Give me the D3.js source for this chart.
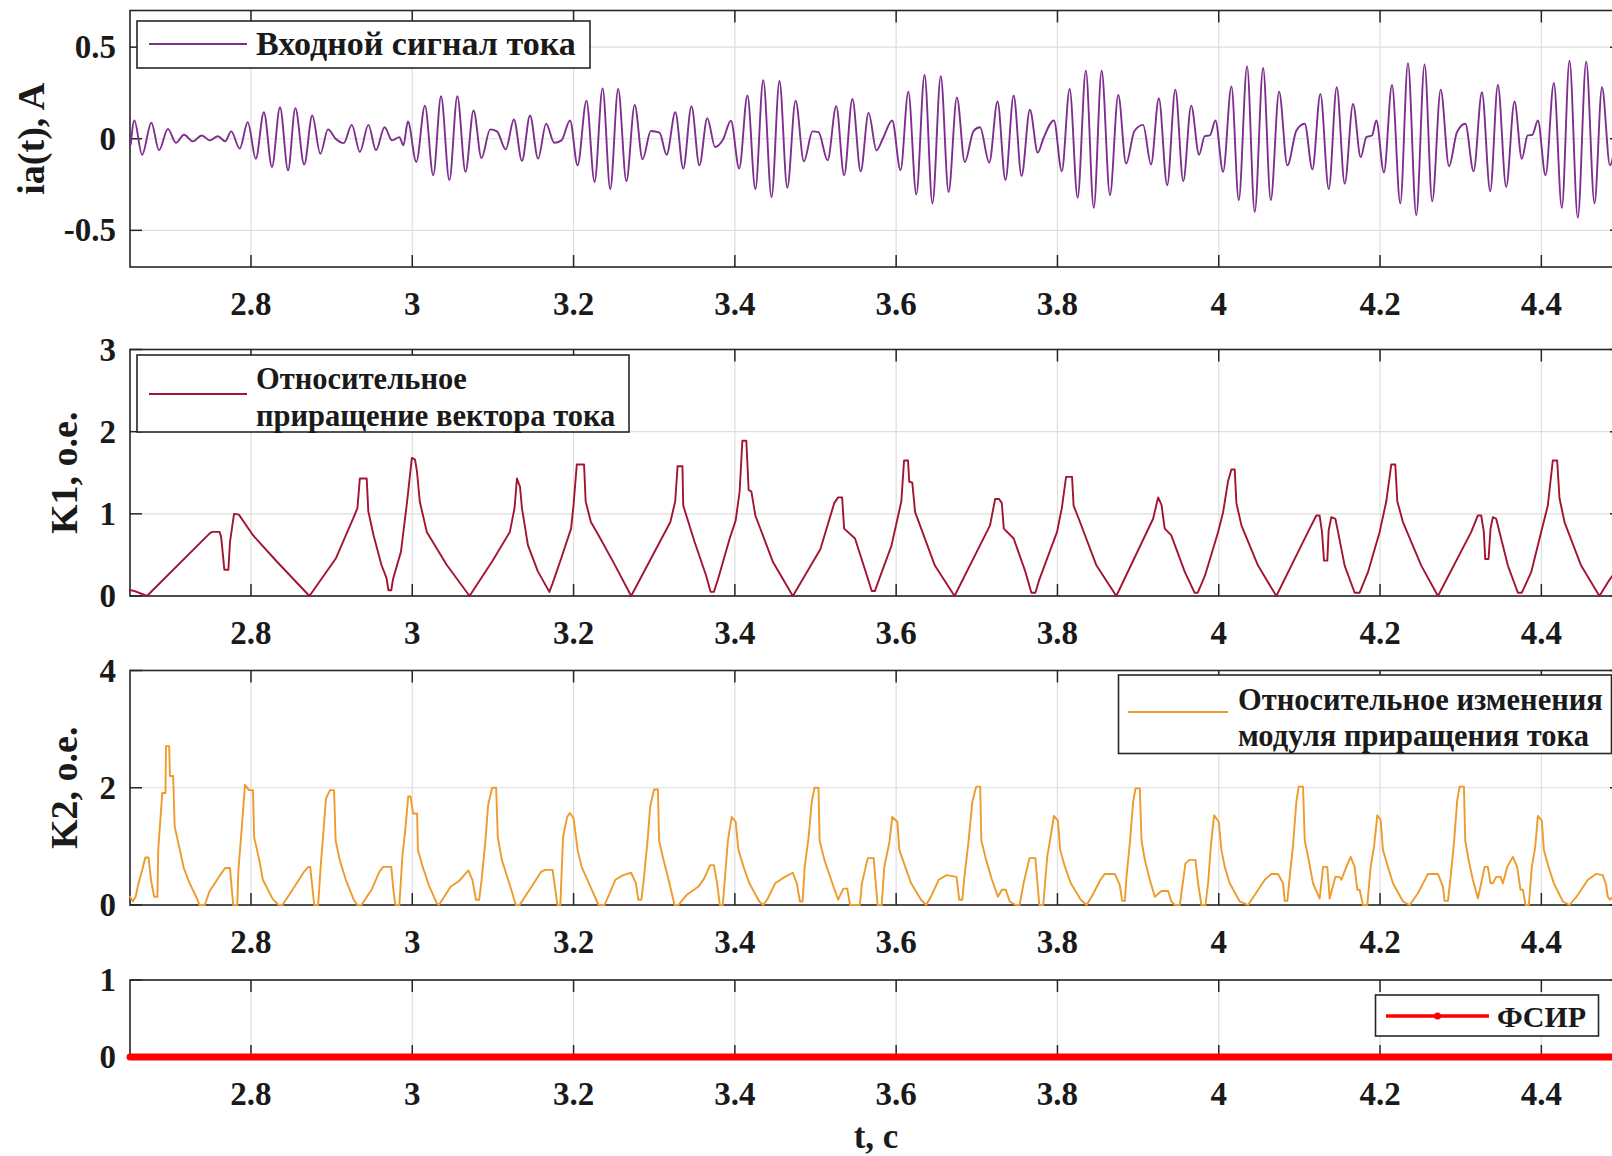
<!DOCTYPE html>
<html>
<head>
<meta charset="utf-8">
<script src="https://cdn.jsdelivr.net/npm/d3@7"></script>
<style>
  body { margin: 0; background: #fff; }
  text { font-family: "Liberation Serif", "Times New Roman", serif; font-weight: bold; fill: #1a1a1a; }
</style>
</head>
<body>
<svg id="chart" width="1612" height="1156"></svg>
<script>
// ---- data ----
const xDomain = [2.65, 4.5];
const xTicks = [2.8, 3, 3.2, 3.4, 3.6, 3.8, 4, 4.2, 4.4];
const xTickLabels = ["2.8", "3", "3.2", "3.4", "3.6", "3.8", "4", "4.2", "4.4"];

const iaTicks = [-0.5, 0, 0.5];
const iaTickLabels = ["-0.5", "0", "0.5"];
const k1Ticks = [0, 1, 2, 3];
const k1TickLabels = ["0", "1", "2", "3"];
const k2Ticks = [0, 2, 4];
const k2TickLabels = ["0", "2", "4"];
const fsirTicks = [0, 1];
const fsirTickLabels = ["0", "1"];

// extrema of the input current signal [t, A]
const iaPts = [
  [2.651,-0.03],[2.6554,0.10],[2.665,-0.087],[2.6765,0.087],[2.686,-0.063],[2.697,0.054],[2.707,-0.022],
  [2.717,0.022],[2.728,-0.014],[2.739,0.018],[2.749,-0.009],[2.759,0.014],[2.768,-0.014],[2.7755,0.04],
  [2.786,-0.054],[2.796,0.09],[2.806,-0.109],[2.816,0.145],[2.826,-0.154],[2.836,0.172],[2.846,-0.172],
  [2.855,0.167],[2.866,-0.141],[2.876,0.127],[2.886,-0.082],[2.8955,0.051],[2.905,0.0],[2.915,-0.024],
  [2.925,0.076],[2.935,-0.072],[2.9456,0.076],[2.955,-0.063],[2.9656,0.063],[2.975,-0.009],[2.984,0.009],
  [2.989,-0.036],[2.9946,0.094],[3.005,-0.127],[3.0157,0.181],[3.026,-0.2],[3.0357,0.232],[3.046,-0.226],
  [3.0559,0.232],[3.066,-0.181],[3.076,0.154],[3.0858,-0.105],[3.0966,0.051],[3.105,0.04],[3.116,-0.058],
  [3.126,0.105],[3.136,-0.121],[3.146,0.127],[3.156,-0.109],[3.166,0.082],[3.176,-0.022],[3.185,-0.009],
  [3.1956,0.1],[3.205,-0.145],[3.216,0.208],[3.226,-0.236],[3.236,0.275],[3.2455,-0.275],[3.2553,0.272],
  [3.2655,-0.232],[3.2758,0.185],[3.2856,-0.112],[3.2958,0.042],[3.3066,0.033],[3.3154,-0.087],[3.3262,0.145],
  [3.336,-0.163],[3.3462,0.178],[3.356,-0.145],[3.3658,0.112],[3.3755,-0.045],[3.3853,-0.004],[3.3951,0.098],
  [3.4054,-0.163],[3.4156,0.236],[3.4254,-0.275],[3.4352,0.319],[3.4455,-0.319],[3.4553,0.315],[3.465,-0.268],
  [3.4753,0.208],[3.4856,-0.123],[3.4963,0.04],[3.5037,0.036],[3.515,-0.118],[3.5257,0.178],[3.5355,-0.2],
  [3.5457,0.217],[3.556,-0.178],[3.5658,0.141],[3.5756,-0.063],[3.5834,0.0],[3.5951,0.1],[3.6054,-0.172],
  [3.6151,0.257],[3.625,-0.304],[3.6352,0.348],[3.645,-0.353],[3.6553,0.341],[3.665,-0.29],[3.6753,0.226],
  [3.6851,-0.127],[3.6959,0.042],[3.704,0.063],[3.7154,-0.13],[3.7257,0.203],[3.7355,-0.226],[3.7457,0.236],
  [3.7555,-0.203],[3.7658,0.158],[3.7756,-0.076],[3.7824,0.0],[3.7956,0.1],[3.8054,-0.178],[3.8151,0.272],
  [3.825,-0.322],[3.8352,0.371],[3.845,-0.377],[3.8548,0.371],[3.8651,-0.308],[3.8754,0.239],[3.8851,-0.136],
  [3.8954,0.042],[3.9062,0.076],[3.916,-0.141],[3.9257,0.221],[3.936,-0.254],[3.9462,0.268],[3.956,-0.232],
  [3.9658,0.181],[3.9756,-0.087],[3.9826,0.014],[3.989,0.018],[3.9959,0.1],[4.0054,-0.181],[4.0157,0.286],
  [4.0248,-0.335],[4.0351,0.395],[4.0446,-0.399],[4.055,0.386],[4.0645,-0.335],[4.0748,0.257],[4.0851,-0.145],
  [4.0963,0.045],[4.1066,0.082],[4.1161,-0.167],[4.126,0.245],[4.1364,-0.275],[4.1463,0.281],[4.1562,-0.245],
  [4.1665,0.19],[4.176,-0.1],[4.183,0.009],[4.19,0.018],[4.1954,0.1],[4.2048,-0.185],[4.2148,0.293],
  [4.2251,-0.353],[4.2346,0.413],[4.2449,-0.417],[4.2552,0.406],[4.2647,-0.341],[4.2752,0.268],[4.2855,-0.15],
  [4.2954,0.036],[4.3057,0.082],[4.316,-0.178],[4.3263,0.254],[4.3366,-0.286],[4.3461,0.293],[4.3564,-0.263],
  [4.3667,0.203],[4.3758,-0.109],[4.383,0.018],[4.389,0.022],[4.3957,0.1],[4.4052,-0.2],[4.4155,0.304],
  [4.4254,-0.377],[4.4349,0.426],[4.4452,-0.431],[4.4556,0.42],[4.4659,-0.353],[4.4752,0.281],[4.4851,-0.145],
  [4.495,0.12]
];

// K1, relative increment of the current vector [t, p.u.]
const k1Pts = [
  [2.65,0.073],[2.656,0.06],[2.671,0.0],[2.7485,0.76],[2.752,0.78],[2.761,0.78],[2.763,0.72],[2.767,0.32],
  [2.772,0.32],[2.774,0.66],[2.779,1.0],[2.785,0.99],[2.8025,0.74],[2.832,0.42],[2.8725,0.0],[2.9054,0.46],
  [2.927,0.95],[2.932,1.07],[2.935,1.43],[2.9435,1.43],[2.9455,1.03],[2.952,0.74],[2.9617,0.38],[2.968,0.22],
  [2.9705,0.07],[2.974,0.07],[2.976,0.2],[2.986,0.54],[2.9936,1.15],[2.9995,1.68],[3.0034,1.66],[3.0058,1.52],
  [3.0093,1.15],[3.018,0.78],[3.0426,0.38],[3.071,0.0],[3.099,0.42],[3.121,0.78],[3.1268,1.07],[3.1298,1.43],
  [3.1336,1.33],[3.136,1.07],[3.1434,0.62],[3.1557,0.3],[3.17,0.05],[3.1739,0.15],[3.1847,0.46],[3.1969,0.82],
  [3.2,1.11],[3.204,1.6],[3.213,1.6],[3.215,1.15],[3.2215,0.9],[3.232,0.72],[3.25,0.4],[3.2714,0.0],
  [3.32,0.9],[3.326,1.15],[3.329,1.58],[3.335,1.58],[3.336,1.1],[3.35,0.66],[3.3643,0.25],[3.37,0.05],
  [3.374,0.05],[3.379,0.2],[3.3936,0.7],[3.401,0.92],[3.4059,1.27],[3.4093,1.89],[3.4142,1.89],[3.4171,1.29],
  [3.4205,1.27],[3.4254,0.98],[3.4474,0.41],[3.4719,0.0],[3.506,0.57],[3.5232,1.13],[3.528,1.2],[3.533,1.2],
  [3.5355,0.82],[3.549,0.7],[3.5624,0.29],[3.5697,0.06],[3.5736,0.06],[3.5795,0.22],[3.5941,0.61],[3.6064,1.15],
  [3.6098,1.65],[3.6147,1.65],[3.6162,1.39],[3.62,1.38],[3.6235,1.02],[3.648,0.37],[3.6724,0.0],[3.7164,0.86],
  [3.7227,1.18],[3.7276,1.18],[3.731,1.13],[3.7335,0.82],[3.7457,0.7],[3.7604,0.29],[3.7677,0.04],[3.7726,0.04],
  [3.7775,0.2],[3.7995,0.78],[3.8054,1.07],[3.8107,1.45],[3.8181,1.45],[3.82,1.1],[3.8264,0.94],[3.8484,0.37],
  [3.873,0.0],[3.9186,0.94],[3.9248,1.2],[3.929,1.11],[3.933,0.82],[3.941,0.74],[3.958,0.29],[3.97,0.04],
  [3.974,0.04],[3.983,0.25],[3.9992,0.78],[4.0054,1.02],[4.0116,1.4],[4.0157,1.54],[4.0198,1.54],[4.0219,1.13],
  [4.0281,0.86],[4.0487,0.37],[4.0714,0.0],[4.1107,0.78],[4.121,0.98],[4.125,0.98],[4.128,0.78],[4.1305,0.43],
  [4.1346,0.43],[4.1363,0.8],[4.1396,0.96],[4.1446,0.94],[4.1479,0.78],[4.1561,0.37],[4.1685,0.04],[4.1747,0.04],
  [4.185,0.29],[4.1995,0.78],[4.2077,1.15],[4.2139,1.6],[4.2189,1.6],[4.2214,1.15],[4.2284,0.9],[4.2511,0.37],
  [4.2718,0.0],[4.3131,0.78],[4.3213,0.98],[4.3254,0.98],[4.3287,0.78],[4.3304,0.45],[4.3345,0.45],[4.337,0.82],
  [4.3399,0.96],[4.344,0.94],[4.3481,0.78],[4.3585,0.37],[4.3709,0.04],[4.3758,0.04],[4.3874,0.29],[4.3998,0.78],
  [4.408,1.1],[4.4142,1.65],[4.4196,1.65],[4.4225,1.19],[4.4287,0.9],[4.4493,0.37],[4.472,0.0],[4.4847,0.2],
  [4.5,0.4]
];

// K2, relative change of the increment modulus [t, p.u.]
const k2Pts = [
  [2.65,0.14],[2.6535,0.06],[2.657,0.14],[2.66,0.34],[2.6652,0.6],[2.669,0.81],[2.673,0.81],[2.676,0.43],
  [2.68,0.14],[2.684,0.14],[2.685,0.94],[2.69,1.91],[2.694,1.91],[2.6946,2.71],[2.6986,2.71],[2.6995,2.2],
  [2.7035,2.2],[2.7054,1.34],[2.7118,0.94],[2.7167,0.63],[2.724,0.37],[2.7338,0.09],[2.736,0.0],[2.7427,0.0],
  [2.7485,0.23],[2.7632,0.54],[2.768,0.63],[2.774,0.63],[2.776,0.3],[2.778,0.0],[2.783,0.0],[2.7843,0.57],
  [2.7887,1.34],[2.7926,2.05],[2.7975,1.96],[2.8025,1.96],[2.8039,1.16],[2.8098,0.8],[2.8147,0.43],[2.827,0.1],
  [2.8343,0.0],[2.839,0.0],[2.8515,0.26],[2.866,0.57],[2.871,0.65],[2.8735,0.65],[2.8784,0.0],[2.8833,0.0],
  [2.8867,0.71],[2.8897,1.22],[2.893,1.82],[2.898,1.96],[2.903,1.96],[2.905,1.1],[2.91,0.77],[2.9176,0.43],
  [2.9274,0.09],[2.932,0.0],[2.937,0.0],[2.9495,0.26],[2.9593,0.57],[2.964,0.65],[2.974,0.65],[2.9764,0.28],
  [2.979,0.0],[2.984,0.0],[2.9877,0.82],[2.991,1.23],[2.995,1.85],[2.998,1.85],[3.001,1.56],[3.006,1.56],
  [3.007,0.94],[3.013,0.65],[3.0205,0.34],[3.0303,0.03],[3.033,0.0],[3.0475,0.31],[3.0573,0.4],[3.0696,0.59],
  [3.0745,0.43],[3.079,0.09],[3.083,0.09],[3.086,0.43],[3.0906,1.08],[3.094,1.7],[3.099,2.0],[3.104,2.0],
  [3.106,1.16],[3.111,0.77],[3.121,0.34],[3.1284,0.0],[3.133,0.0],[3.1455,0.26],[3.16,0.57],[3.165,0.6],
  [3.174,0.6],[3.18,0.0],[3.1836,0.0],[3.187,1.16],[3.192,1.5],[3.1955,1.57],[3.2,1.48],[3.205,0.94],
  [3.21,0.65],[3.221,0.31],[3.231,0.0],[3.2385,0.0],[3.2518,0.43],[3.2616,0.51],[3.2714,0.55],[3.2773,0.37],
  [3.2802,0.09],[3.2841,0.09],[3.287,0.43],[3.292,1.14],[3.295,1.68],[3.2998,1.97],[3.3046,1.97],[3.306,1.1],
  [3.3115,0.77],[3.3178,0.43],[3.3252,0.0],[3.33,0.0],[3.34,0.17],[3.3545,0.31],[3.3619,0.45],[3.3692,0.68],
  [3.374,0.68],[3.378,0.37],[3.3814,0.0],[3.385,0.0],[3.3878,0.48],[3.3912,1.08],[3.396,1.5],[3.401,1.42],
  [3.4044,0.94],[3.4108,0.65],[3.418,0.37],[3.4303,0.06],[3.4352,0.0],[3.44,0.09],[3.45,0.37],[3.4621,0.48],
  [3.4719,0.55],[3.4768,0.37],[3.4807,0.06],[3.484,0.06],[3.4866,0.65],[3.4915,1.16],[3.4953,1.76],[3.4988,2.0],
  [3.5037,2.0],[3.5051,1.1],[3.511,0.77],[3.5208,0.37],[3.5281,0.09],[3.5345,0.28],[3.5394,0.28],[3.5428,0.0],
  [3.555,0.0],[3.5575,0.37],[3.5648,0.8],[3.5721,0.8],[3.577,0.0],[3.582,0.0],[3.5853,0.65],[3.5917,1.08],
  [3.5951,1.5],[3.6015,1.42],[3.6039,0.94],[3.6113,0.65],[3.6186,0.37],[3.6308,0.09],[3.6372,0.0],[3.643,0.14],
  [3.6528,0.43],[3.6626,0.51],[3.6748,0.48],[3.6782,0.09],[3.682,0.09],[3.6846,0.48],[3.6895,1.05],[3.6944,1.76],
  [3.6993,2.02],[3.7042,2.02],[3.7056,1.1],[3.7115,0.77],[3.7188,0.43],[3.7262,0.14],[3.731,0.26],[3.736,0.26],
  [3.7408,0.06],[3.7482,0.0],[3.753,0.0],[3.758,0.37],[3.7653,0.8],[3.7726,0.8],[3.7775,0.0],[3.7824,0.0],
  [3.7873,0.82],[3.7922,1.22],[3.7956,1.52],[3.8005,1.44],[3.8034,0.94],[3.8093,0.65],[3.8166,0.37],[3.8289,0.09],
  [3.8362,0.0],[3.8435,0.17],[3.8533,0.43],[3.8587,0.53],[3.8711,0.53],[3.8773,0.34],[3.8802,0.07],[3.8835,0.07],
  [3.8856,0.48],[3.8897,1.05],[3.8939,1.76],[3.8968,1.99],[3.9021,1.99],[3.9042,1.1],[3.9083,0.77],[3.9145,0.43],
  [3.9207,0.14],[3.929,0.24],[3.9372,0.24],[3.9413,0.06],[3.9455,0.0],[3.9517,0.0],[3.9587,0.71],[3.9641,0.77],
  [3.9711,0.77],[3.9744,0.37],[3.9785,0.0],[3.9835,0.0],[3.9868,0.37],[3.9901,0.99],[3.9942,1.53],[4.0,1.42],
  [4.0033,0.94],[4.0074,0.65],[4.0136,0.37],[4.026,0.06],[4.0363,0.0],[4.0446,0.17],[4.057,0.43],[4.0653,0.53],
  [4.0735,0.53],[4.0797,0.37],[4.0818,0.07],[4.0851,0.07],[4.088,0.48],[4.0921,1.02],[4.0962,1.76],[4.0991,2.02],
  [4.1045,2.02],[4.1066,1.1],[4.1115,0.77],[4.1169,0.37],[4.1251,0.11],[4.1293,0.65],[4.1346,0.65],[4.1375,0.11],
  [4.1446,0.48],[4.1499,0.48],[4.152,0.43],[4.1582,0.65],[4.1636,0.82],[4.1685,0.65],[4.1718,0.26],[4.1747,0.26],
  [4.1788,0.0],[4.1842,0.0],[4.1883,0.65],[4.1925,0.99],[4.1966,1.53],[4.2007,1.45],[4.2036,0.94],[4.2098,0.65],
  [4.216,0.37],[4.2284,0.06],[4.2367,0.0],[4.247,0.2],[4.2594,0.53],[4.2718,0.53],[4.278,0.31],[4.28,0.07],
  [4.2842,0.07],[4.2875,0.48],[4.2916,1.05],[4.2957,1.79],[4.2986,2.02],[4.304,2.02],[4.3056,1.1],[4.3098,0.77],
  [4.3151,0.43],[4.3213,0.11],[4.3254,0.37],[4.3296,0.65],[4.3337,0.65],[4.337,0.37],[4.3399,0.37],[4.344,0.48],
  [4.3494,0.48],[4.3523,0.37],[4.3577,0.65],[4.3647,0.82],[4.37,0.65],[4.3742,0.26],[4.3771,0.26],[4.3804,0.0],
  [4.3845,0.0],[4.3882,0.65],[4.3924,0.99],[4.3957,1.52],[4.4006,1.44],[4.4031,0.94],[4.4089,0.65],[4.4155,0.37],
  [4.4267,0.06],[4.4349,0.0],[4.4452,0.17],[4.4576,0.43],[4.4679,0.53],[4.4762,0.51],[4.4803,0.34],[4.4824,0.14],
  [4.485,0.09],[4.5,0.3]
];

// FSIR output (stays at zero)
const fsirPts = [[2.65, 0], [4.5, 0]];

// ---- drawing ----
const svg = d3.select("#chart");
const left = 130, right = 1622;
const x = d3.scaleLinear().domain(xDomain).range([left, right]);
const axisColor = "#262626";
const gridColor = "#dedede";
const tickLen = 12;

const panels = [
  { top: 10.5, bottom: 267, domain: [-0.7, 0.7], ticks: iaTicks, labels: iaTickLabels,
    data: iaPts, color: "#7E2F8E", width: 1.9, curve: d3.curveMonotoneX,
    ylabel: "ia(t), A", ylabelX: 31 },
  { top: 349.5, bottom: 596, domain: [0, 3], ticks: k1Ticks, labels: k1TickLabels,
    data: k1Pts, color: "#A2142F", width: 1.9, curve: d3.curveLinear,
    ylabel: "K1, о.е.", ylabelX: 64 },
  { top: 670.5, bottom: 905, domain: [0, 4], ticks: k2Ticks, labels: k2TickLabels,
    data: k2Pts, color: "#EE9B2C", width: 1.9, curve: d3.curveLinear,
    ylabel: "K2, о.е.", ylabelX: 64 },
  { top: 980, bottom: 1057, domain: [0, 1], ticks: fsirTicks, labels: fsirTickLabels,
    data: fsirPts, color: "#FF0000", width: 7, curve: d3.curveLinear,
    ylabel: null }
];

panels.forEach((p, i) => {
  const y = d3.scaleLinear().domain(p.domain).range([p.bottom, p.top]);
  const g = svg.append("g");

  g.append("rect").attr("x", left).attr("y", p.top)
    .attr("width", right - left).attr("height", p.bottom - p.top).attr("fill", "#fff");

  // grid
  g.selectAll(".gx").data(xTicks).join("line")
    .attr("x1", d => x(d)).attr("x2", d => x(d)).attr("y1", p.top).attr("y2", p.bottom)
    .attr("stroke", gridColor).attr("stroke-width", 1.2);
  g.selectAll(".gy").data(p.ticks).join("line")
    .attr("x1", left).attr("x2", right).attr("y1", d => y(d)).attr("y2", d => y(d))
    .attr("stroke", gridColor).attr("stroke-width", 1.2);

  // ticks (inside, all sides)
  const tk = g.append("g").attr("stroke", axisColor).attr("stroke-width", 1.5);
  xTicks.forEach(t => {
    tk.append("line").attr("x1", x(t)).attr("x2", x(t)).attr("y1", p.bottom).attr("y2", p.bottom - tickLen);
    tk.append("line").attr("x1", x(t)).attr("x2", x(t)).attr("y1", p.top).attr("y2", p.top + tickLen);
  });
  p.ticks.forEach(t => {
    tk.append("line").attr("x1", left).attr("x2", left + tickLen).attr("y1", y(t)).attr("y2", y(t));
    tk.append("line").attr("x1", right).attr("x2", right - tickLen).attr("y1", y(t)).attr("y2", y(t));
  });

  // box
  g.append("rect").attr("x", left).attr("y", p.top)
    .attr("width", right - left).attr("height", p.bottom - p.top)
    .attr("fill", "none").attr("stroke", axisColor).attr("stroke-width", 1.6);

  // series, drawn over the box
  const clipId = "clip" + i;
  svg.append("clipPath").attr("id", clipId).append("rect")
    .attr("x", left - 4).attr("y", p.top - 6).attr("width", right - left + 8).attr("height", p.bottom - p.top + 12);
  const line = d3.line().x(d => x(d[0])).y(d => y(d[1])).curve(p.curve);
  g.append("path").datum(p.data).attr("clip-path", `url(#${clipId})`)
    .attr("d", line).attr("fill", "none").attr("stroke", p.color)
    .attr("stroke-width", p.width).attr("stroke-linejoin", "round").attr("stroke-linecap", "round");

  // tick labels
  g.selectAll(".xl").data(xTicks).join("text")
    .attr("x", d => x(d)).attr("y", p.bottom + 48)
    .attr("text-anchor", "middle").attr("font-size", 33)
    .text((d, j) => xTickLabels[j]);
  g.selectAll(".yl").data(p.ticks).join("text")
    .attr("x", left - 14).attr("y", d => y(d) + 11)
    .attr("text-anchor", "end").attr("font-size", 33)
    .text((d, j) => p.labels[j]);

  if (p.ylabel) {
    g.append("text")
      .attr("transform", `translate(${p.ylabelX},${(p.top + p.bottom) / 2}) rotate(-90)`)
      .attr("text-anchor", "middle").attr("dy", "0.35em").attr("font-size", 38)
      .text(p.ylabel);
  }
});

// x axis title
svg.append("text").attr("x", 876).attr("y", 1148).attr("text-anchor", "middle")
  .attr("font-size", 35).text("t, c");

// ---- legends ----
function legend(box, lineY, lx1, lx2, color, width, textX, lines, lineYs, size, marker) {
  const g = svg.append("g");
  g.append("rect").attr("x", box[0]).attr("y", box[1]).attr("width", box[2]).attr("height", box[3])
    .attr("fill", "#fff").attr("stroke", axisColor).attr("stroke-width", 1.6);
  g.append("line").attr("x1", lx1).attr("x2", lx2).attr("y1", lineY).attr("y2", lineY)
    .attr("stroke", color).attr("stroke-width", width);
  if (marker) {
    g.append("circle").attr("cx", (lx1 + lx2) / 2).attr("cy", lineY).attr("r", 3.5).attr("fill", color);
  }
  lines.forEach((s, j) => {
    g.append("text").attr("x", textX).attr("y", lineYs[j]).attr("font-size", size).text(s);
  });
}

legend([137, 21, 453, 47], 44, 149, 247, "#7E2F8E", 1.8, 256, ["Входной сигнал тока"], [55], 34);
legend([137, 355, 492, 77], 394, 149, 247, "#A2142F", 1.8, 256,
  ["Относительное", "приращение вектора тока"], [389, 426], 30.5);
legend([1118.5, 675, 493, 78.5], 712, 1128, 1228, "#EE9B2C", 1.8, 1238,
  ["Относительное изменения", "модуля приращения тока"], [710, 746], 30.5);
legend([1375.5, 995, 223, 41], 1016, 1386, 1489, "#FF0000", 3.5, 1497, ["ФСИР"], [1027], 30, true);
</script>
</body>
</html>
